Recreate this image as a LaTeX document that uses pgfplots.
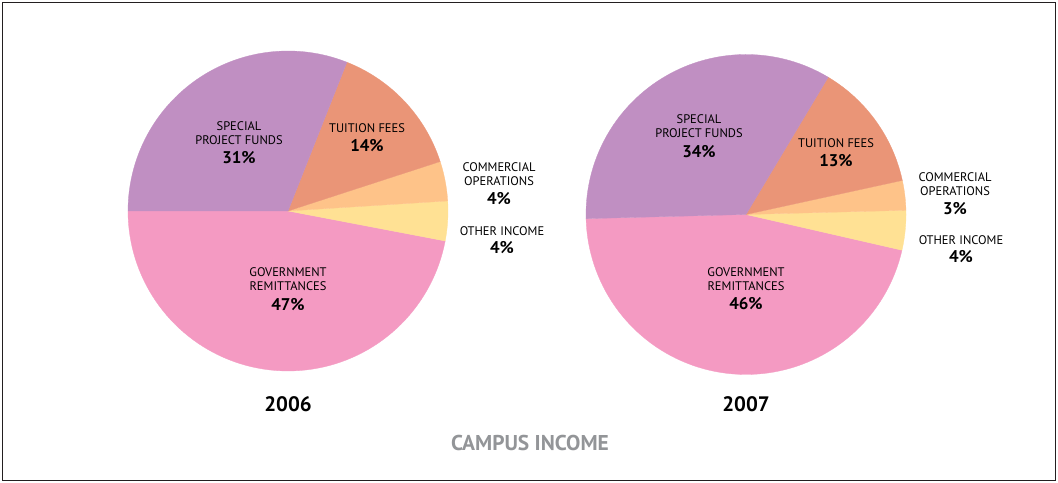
\documentclass[border=0pt]{standalone}
\usepackage{pgfplots}
\pgfplotsset{compat=1.18}
\usepackage{fontspec}
\setmainfont{PT Sans}
\definecolor{cSpecial}{HTML}{C08FC2}
\definecolor{cTuition}{HTML}{EA9577}
\definecolor{cCommercial}{HTML}{FEC389}
\definecolor{cOther}{HTML}{FFE194}
\definecolor{cGov}{HTML}{F49AC2}
\definecolor{cTitle}{HTML}{939598}
\definecolor{cFrame}{HTML}{231F20}

% percentages: government, other income, commercial operations, tuition fees, special project funds
\def\govA{47}\def\othA{4}\def\comA{4}\def\tuiA{14}\def\speA{31}
\def\govB{46}\def\othB{4}\def\comB{3}\def\tuiB{13}\def\speB{34}

\pgfplotsset{pieaxis/.style={
  x=160bp, y=160bp, xmin=-1, xmax=1, ymin=-1, ymax=1,
  hide axis, clip=false, anchor=center, scale only axis}}

\begin{document}
\begin{tikzpicture}[x=1bp,y=1bp,
  lab/.style={font=\fontsize{12.5}{13.5}\selectfont, text=black, align=center},
  pct/.style={font=\fontsize{17}{18}\selectfont\bfseries, text=black}]
\fill[white] (0,0) rectangle (1058,483);
\draw[cFrame, line width=1.2bp] (2.5,2.5) rectangle (1055.5,480.5);

% ---- 2006 ----
\begin{axis}[pieaxis, at={(288bp,272bp)}]
  \pgfmathsetmacro{\sA}{180}
  \pgfmathsetmacro{\sB}{\sA+3.6*\govA}
  \pgfmathsetmacro{\sC}{\sB+3.6*\othA}
  \pgfmathsetmacro{\sD}{\sC+3.6*\comA}
  \pgfmathsetmacro{\sE}{\sD+3.6*\tuiA}
  \pgfmathsetmacro{\sF}{\sE+3.6*\speA}
  \addplot[fill=cGov, draw=cGov, line width=0.3pt, domain=\sA:\sB, samples=80, variable=\t] ({cos(t)},{sin(t)}) -- (axis cs:0,0) -- cycle;
  \addplot[fill=cOther, draw=cOther, line width=0.3pt, domain=\sB:\sC, samples=10, variable=\t] ({cos(t)},{sin(t)}) -- (axis cs:0,0) -- cycle;
  \addplot[fill=cCommercial, draw=cCommercial, line width=0.3pt, domain=\sC:\sD, samples=10, variable=\t] ({cos(t)},{sin(t)}) -- (axis cs:0,0) -- cycle;
  \addplot[fill=cTuition, draw=cTuition, line width=0.3pt, domain=\sD:\sE, samples=30, variable=\t] ({cos(t)},{sin(t)}) -- (axis cs:0,0) -- cycle;
  \addplot[fill=cSpecial, draw=cSpecial, line width=0.3pt, domain=\sE:\sF, samples=60, variable=\t] ({cos(t)},{sin(t)}) -- (axis cs:0,0) -- cycle;
\end{axis}

% ---- 2007 ----
\begin{axis}[pieaxis, at={(746bp,268.5bp)}]
  \pgfmathsetmacro{\sA}{181.5}
  \pgfmathsetmacro{\sB}{\sA+3.6*\govB}
  \pgfmathsetmacro{\sC}{\sB+3.6*\othB}
  \pgfmathsetmacro{\sD}{\sC+3.6*\comB}
  \pgfmathsetmacro{\sE}{\sD+3.6*\tuiB}
  \pgfmathsetmacro{\sF}{\sE+3.6*\speB}
  \addplot[fill=cGov, draw=cGov, line width=0.3pt, domain=\sA:\sB, samples=80, variable=\t] ({cos(t)},{sin(t)}) -- (axis cs:0,0) -- cycle;
  \addplot[fill=cOther, draw=cOther, line width=0.3pt, domain=\sB:\sC, samples=10, variable=\t] ({cos(t)},{sin(t)}) -- (axis cs:0,0) -- cycle;
  \addplot[fill=cCommercial, draw=cCommercial, line width=0.3pt, domain=\sC:\sD, samples=10, variable=\t] ({cos(t)},{sin(t)}) -- (axis cs:0,0) -- cycle;
  \addplot[fill=cTuition, draw=cTuition, line width=0.3pt, domain=\sD:\sE, samples=30, variable=\t] ({cos(t)},{sin(t)}) -- (axis cs:0,0) -- cycle;
  \addplot[fill=cSpecial, draw=cSpecial, line width=0.3pt, domain=\sE:\sF, samples=60, variable=\t] ({cos(t)},{sin(t)}) -- (axis cs:0,0) -- cycle;
\end{axis}

% ---- labels 2006 ----
\node[lab] at (239,483-133) {SPECIAL\\PROJECT FUNDS};
\node[pct] at (239,483-158) {31\%};
\node[lab] at (367,483-128) {TUITION FEES};
\node[pct] at (367,483-146) {14\%};
\node[lab] at (499,483-174) {COMMERCIAL\\OPERATIONS};
\node[pct] at (499,483-199) {4\%};
\node[lab] at (502,483-231) {OTHER INCOME};
\node[pct] at (502,483-248) {4\%};
\node[lab] at (288,483-279) {GOVERNMENT\\REMITTANCES};
\node[pct] at (288,483-305) {47\%};

% ---- labels 2007 ----
\node[lab] at (699,483-126) {SPECIAL\\PROJECT FUNDS};
\node[pct] at (699,483-152) {34\%};
\node[lab] at (836,483-143) {TUITION FEES};
\node[pct] at (836,483-161) {13\%};
\node[lab] at (955,483-184) {COMMERCIAL\\OPERATIONS};
\node[pct] at (955,483-209) {3\%};
\node[lab] at (961,483-240) {OTHER INCOME};
\node[pct] at (961,483-257) {4\%};
\node[lab] at (746,483-279) {GOVERNMENT\\REMITTANCES};
\node[pct] at (746,483-304) {46\%};

% ---- years and title ----
\node[font=\fontsize{21}{22}\selectfont\bfseries] at (288,483-404) {2006};
\node[font=\fontsize{21}{22}\selectfont\bfseries] at (746,483-404) {2007};
\node[font=\fontsize{21.5}{22}\selectfont\bfseries, text=cTitle] at (530,483-443) {CAMPUS INCOME};
\end{tikzpicture}
\end{document}
